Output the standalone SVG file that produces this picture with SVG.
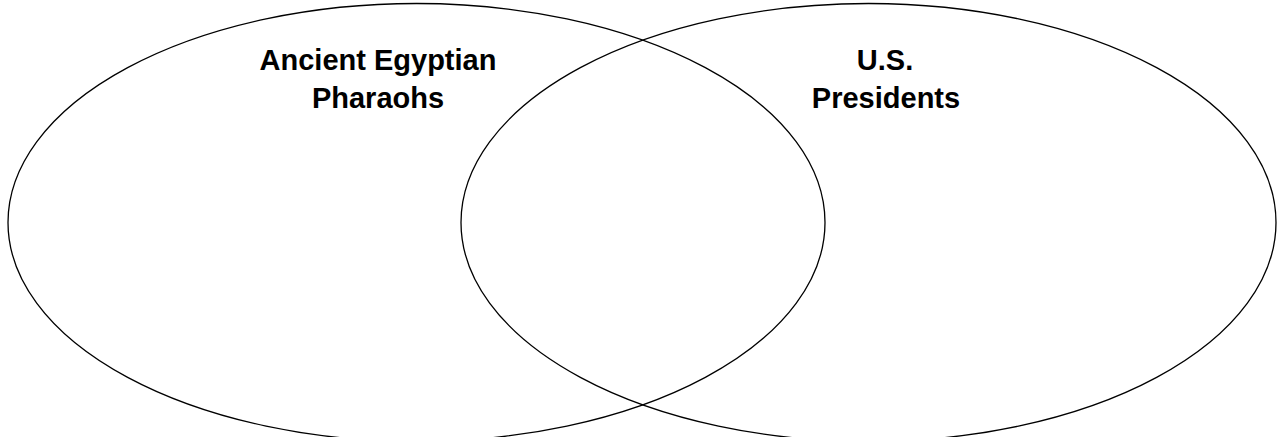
<svg xmlns="http://www.w3.org/2000/svg" width="1278" height="437" viewBox="0 0 1278 437">
<style>
.set{fill:none;stroke:#000;stroke-width:1.3}
.lbl{font-family:"Liberation Sans",Arial,sans-serif;font-weight:bold;font-size:29px;fill:#000;text-anchor:middle}
</style>
<rect width="1278" height="437" fill="#fff"/>
<g id="connectors"/>
<g id="pharaohs">
<ellipse class="set" cx="416.5" cy="222.5" rx="408.5" ry="219"/>
<text class="lbl" x="378" y="70">Ancient Egyptian</text>
<text class="lbl" x="378" y="108">Pharaohs</text>
</g>
<g id="presidents">
<ellipse class="set" cx="868.5" cy="222.5" rx="407.5" ry="219"/>
<text class="lbl" x="885" y="70">U.S.</text>
<text class="lbl" x="886" y="108">Presidents</text>
</g>
</svg>
